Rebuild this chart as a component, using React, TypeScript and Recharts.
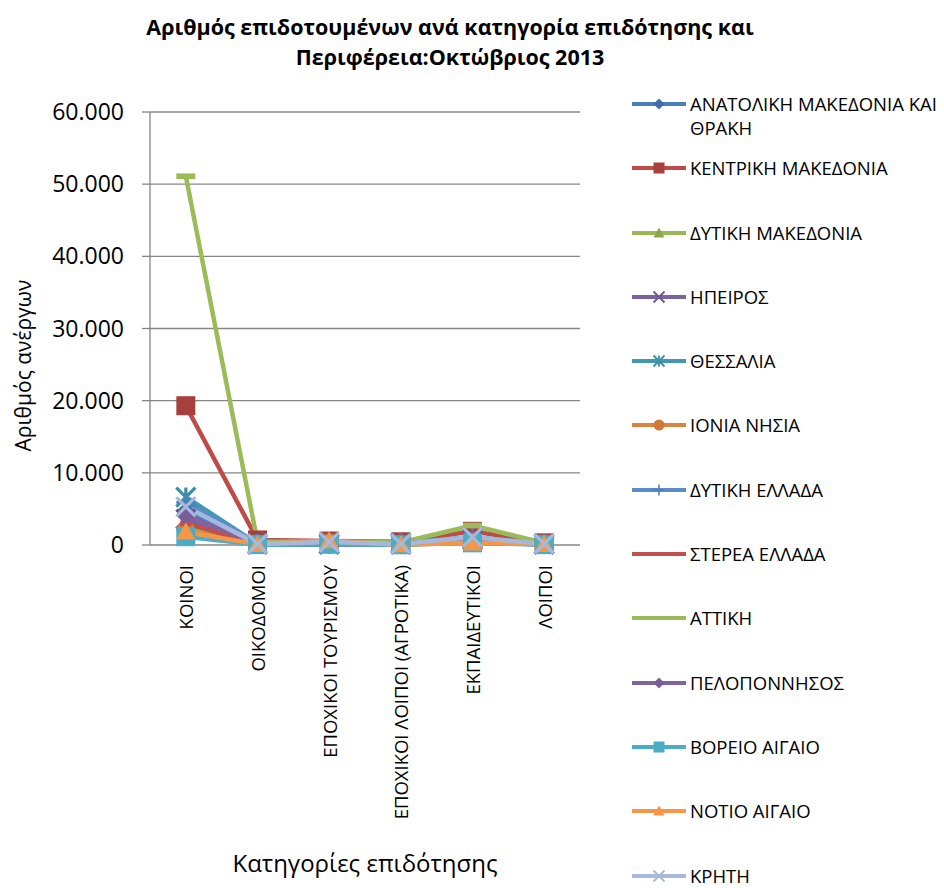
import { LineChart, Line, XAxis, YAxis, CartesianGrid } from 'recharts'

const categories = [
  'ΚΟΙΝΟΙ',
  'ΟΙΚΟΔΟΜΟΙ',
  'ΕΠΟΧΙΚΟΙ ΤΟΥΡΙΣΜΟΥ',
  'ΕΠΟΧΙΚΟΙ ΛΟΙΠΟΙ (ΑΓΡΟΤΙΚΑ)',
  'ΕΚΠΑΙΔΕΥΤΙΚΟΙ',
  'ΛΟΙΠΟΙ',
]

const regions = [
  'ΑΝΑΤΟΛΙΚΗ ΜΑΚΕΔΟΝΙΑ ΚΑΙ ΘΡΑΚΗ',
  'ΚΕΝΤΡΙΚΗ ΜΑΚΕΔΟΝΙΑ',
  'ΔΥΤΙΚΗ ΜΑΚΕΔΟΝΙΑ',
  'ΗΠΕΙΡΟΣ',
  'ΘΕΣΣΑΛΙΑ',
  'ΙΟΝΙΑ ΝΗΣΙΑ',
  'ΔΥΤΙΚΗ ΕΛΛΑΔΑ',
  'ΣΤΕΡΕΑ ΕΛΛΑΔΑ',
  'ΑΤΤΙΚΗ',
  'ΠΕΛΟΠΟΝΝΗΣΟΣ',
  'ΒΟΡΕΙΟ ΑΙΓΑΙΟ',
  'ΝΟΤΙΟ ΑΙΓΑΙΟ',
  'ΚΡΗΤΗ',
]

// values per region, in category order
const anatMakedonia = [4700, 150, 100, 200, 900, 100]
const kentMakedonia = [19300, 700, 550, 450, 1900, 300]
const dytMakedonia = [2400, 100, 50, 50, 600, 50]
const ipeiros = [3600, 100, 150, 100, 700, 100]
const thessalia = [6650, 150, 100, 300, 1000, 150]
const ionia = [2000, 80, 300, 50, 500, 50]
const dytEllada = [5900, 200, 150, 250, 1100, 150]
const sterea = [3000, 150, 100, 200, 800, 100]
const attiki = [51100, 450, 500, 350, 2700, 300]
const peloponnisos = [4100, 150, 150, 200, 900, 100]
const voreioAigaio = [1150, 50, 100, 30, 300, 50]
const notioAigaio = [1800, 100, 600, 50, 300, 100]
const kriti = [5300, 150, 400, 150, 1100, 150]

const seriesValues = [
  anatMakedonia,
  kentMakedonia,
  dytMakedonia,
  ipeiros,
  thessalia,
  ionia,
  dytEllada,
  sterea,
  attiki,
  peloponnisos,
  voreioAigaio,
  notioAigaio,
  kriti,
]

const yTicks = [0, 10000, 20000, 30000, 40000, 50000, 60000]

const shapes = [
  'diamond', 'square', 'triangle', 'x', 'star', 'circle', 'plus',
  'dash', 'longdash', 'diamond', 'square', 'triangle', 'x',
]
const lineColors = [
  '#4A7EBB', '#BE4B48', '#98B954', '#7D60A0', '#4198AF', '#DB843D', '#5B8BC9',
  '#C0504D', '#9BBB59', '#8064A2', '#4BACC6', '#F79646', '#A6B9DC',
]
const markerColors = [
  '#3F6EA8', '#A5403D', '#8AA84A', '#6F5592', '#3C8EA3', '#D27A35', '#4F7FBE',
  '#C0504D', '#9BBB59', '#7A5E9C', '#4BACC6', '#F79646', '#A6B9DC',
]

const catTicks = categories.map((_, i) => i)
const edgeTicks = categories.map((_, i) => i - 0.5).concat(categories.length - 0.5)

const chartData = categories.map((name, i) => {
  const row: Record<string, number | string> = { idx: i, name }
  seriesValues.forEach((vals, s) => {
    row[`s${s}`] = vals[i]
  })
  return row
})

const FONT = '"Open Sans", sans-serif'

function formatThousands(v: number) {
  if (v === 0) return '0'
  return String(v).replace(/\B(?=(\d{3})+(?!\d))/g, '.')
}

function Marker({ cx, cy, shape, fill, size }: any) {
  if (cx == null || cy == null) return null
  const h = size / 2
  switch (shape) {
    case 'diamond':
      return (
        <polygon
          points={`${cx},${cy - h} ${cx + h},${cy} ${cx},${cy + h} ${cx - h},${cy}`}
          fill={fill}
        />
      )
    case 'square':
      return <rect x={cx - h} y={cy - h} width={size} height={size} fill={fill} />
    case 'triangle':
      return (
        <polygon
          points={`${cx},${cy - h} ${cx + h},${cy + h * 0.8} ${cx - h},${cy + h * 0.8}`}
          fill={fill}
        />
      )
    case 'x':
      return (
        <path
          d={`M${cx - h},${cy - h}L${cx + h},${cy + h}M${cx + h},${cy - h}L${cx - h},${cy + h}`}
          stroke={fill}
          strokeWidth={size / 6}
        />
      )
    case 'star':
      return (
        <path
          d={`M${cx - h},${cy - h}L${cx + h},${cy + h}M${cx + h},${cy - h}L${cx - h},${cy + h}M${cx},${cy - h}L${cx},${cy + h}`}
          stroke={fill}
          strokeWidth={size / 6}
        />
      )
    case 'circle':
      return <circle cx={cx} cy={cy} r={h} fill={fill} />
    case 'plus':
      return (
        <path
          d={`M${cx - h},${cy}L${cx + h},${cy}M${cx},${cy - h}L${cx},${cy + h}`}
          stroke={fill}
          strokeWidth={size / 7}
        />
      )
    case 'dash':
      return <rect x={cx - h * 0.6} y={cy - size * 0.15} width={size * 0.6} height={size * 0.3} fill={fill} />
    case 'longdash':
      return <rect x={cx - h} y={cy - size * 0.15} width={size} height={size * 0.3} fill={fill} />
    default:
      return null
  }
}

function CategoryTick({ x, y, payload }: any) {
  return (
    <text
      transform={`translate(${x},${y + 12}) rotate(-90)`}
      textAnchor="end"
      dominantBaseline="central"
      fontSize={18.5}
      fontFamily={FONT}
      fill="#000"
    >
      {categories[payload.value]}
    </text>
  )
}

function LegendBox() {
  return (
    <div style={{ position: 'absolute', left: 632, top: 92, width: 312 }}>
      {regions.map((name, s) => (
        <div key={name} style={{ height: 64.3, display: 'flex', alignItems: 'flex-start' }}>
          <svg width={58} height={24} style={{ flex: 'none' }}>
            <line x1={0} y1={12} x2={54} y2={12} stroke={lineColors[s]} strokeWidth={4} />
            <Marker cx={27} cy={12} shape={shapes[s]} fill={markerColors[s]} size={11} />
          </svg>
          <div
            style={{
              fontFamily: FONT,
              fontSize: 18.5,
              lineHeight: '24px',
              color: '#000',
              width: 258,
              flex: 'none',
            }}
          >
            {name}
          </div>
        </div>
      ))}
    </div>
  )
}

export default function App() {
  return (
    <div
      style={{
        position: 'absolute',
        left: 0,
        top: 0,
        width: 944,
        height: 888,
        background: '#fff',
        fontFamily: FONT,
        overflow: 'hidden',
      }}
    >
      <div
        style={{
          position: 'absolute',
          left: 0,
          top: 12,
          width: 900,
          textAlign: 'center',
          fontWeight: 700,
          fontSize: 21.5,
          lineHeight: '30px',
          color: '#000',
        }}
      >
        Αριθμός επιδοτουμένων ανά κατηγορία επιδότησης και
        <br />
        Περιφέρεια:Οκτώβριος 2013
      </div>

      <LineChart
        width={944}
        height={888}
        data={chartData}
        margin={{ top: 112, right: 364, left: 0, bottom: 0 }}
      >
        <CartesianGrid vertical={false} stroke="#868686" strokeWidth={1.3} xAxisId="cats" />
        <XAxis
          xAxisId="edges"
          type="number"
          dataKey="idx"
          domain={[-0.5, 5.5]}
          ticks={edgeTicks}
          interval={0}
          tick={false}
          tickSize={6}
          height={0}
          stroke="#868686"
          strokeWidth={1.3}
        />
        <XAxis
          xAxisId="cats"
          type="number"
          dataKey="idx"
          domain={[-0.5, 5.5]}
          ticks={catTicks}
          interval={0}
          tick={<CategoryTick />}
          tickLine={false}
          axisLine={false}
          height={343}
          label={{
            value: 'Κατηγορίες επιδότησης',
            position: 'insideBottom',
            offset: 16,
            style: { fontSize: 24, fill: '#000', fontFamily: FONT },
          }}
        />
        <YAxis
          type="number"
          domain={[0, 60000]}
          ticks={yTicks}
          interval={0}
          width={150}
          tickSize={8}
          tickMargin={18}
          stroke="#868686"
          strokeWidth={1.3}
          tickFormatter={formatThousands}
          tick={{ fill: '#000', fontSize: 23, fontFamily: FONT }}
          label={{
            value: 'Αριθμός ανέργων',
            angle: -90,
            position: 'center',
            dx: -51,
            dy: 37,
            style: { fontSize: 21, fill: '#000', fontFamily: FONT, textAnchor: 'middle' },
          }}
        />
        {regions.map((name, s) => (
          <Line
            key={name}
            xAxisId="cats"
            type="linear"
            dataKey={`s${s}`}
            name={name}
            stroke={lineColors[s]}
            strokeWidth={4.5}
            strokeLinejoin="round"
            isAnimationActive={false}
            activeDot={false}
            dot={(p: any) => (
              <Marker
                key={`m${s}-${p.index}`}
                cx={p.cx}
                cy={p.cy}
                shape={shapes[s]}
                fill={markerColors[s]}
                size={19}
              />
            )}
          />
        ))}
      </LineChart>

      <LegendBox />
    </div>
  )
}
